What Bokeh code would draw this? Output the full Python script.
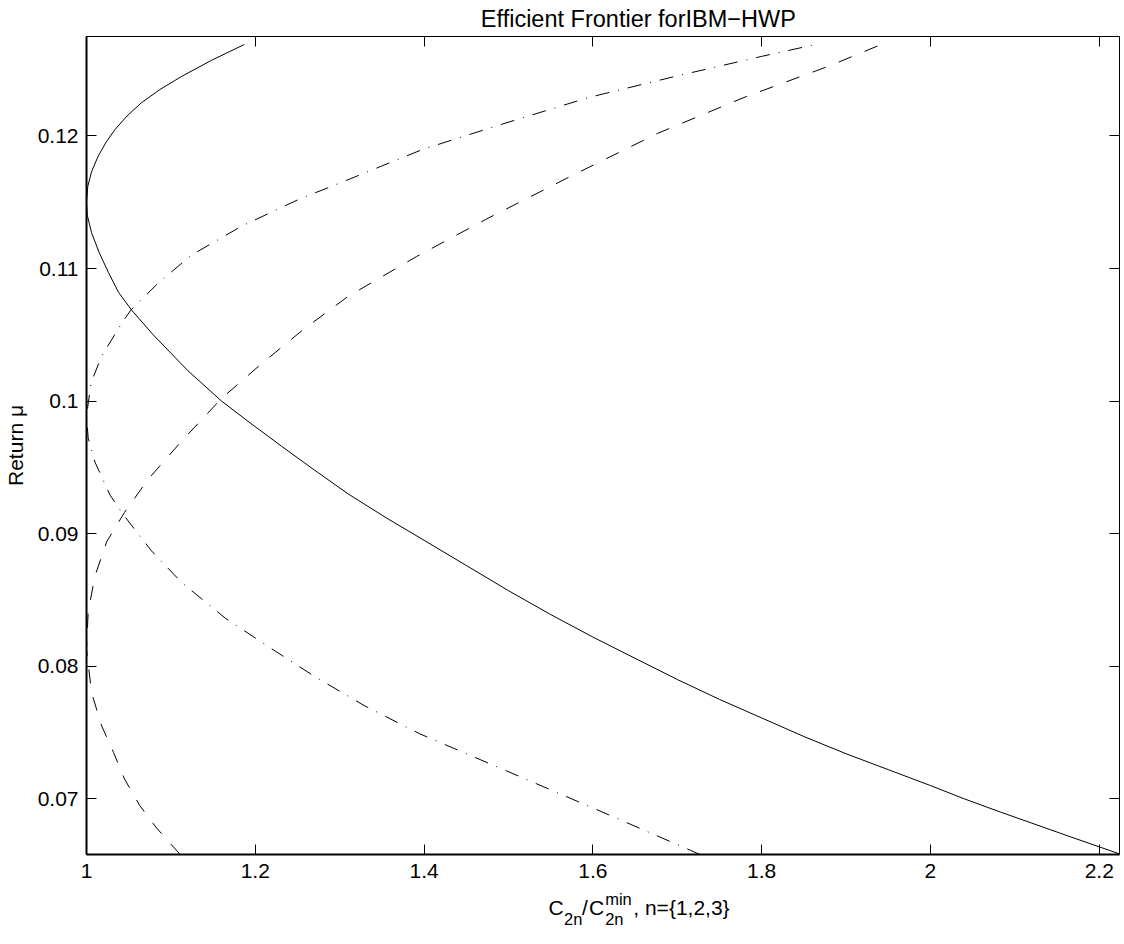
from bokeh.plotting import figure
from bokeh.layouts import column
from bokeh.models import Range1d, LinearAxis, FixedTicker, CustomJSTickFormatter
from bokeh.core.properties import value
from bokeh.embed import file_html
from bokeh.resources import INLINE

FONT = "Liberation Sans"

# ---------------- data / texts ----------------
title_text = "Efficient Frontier forIBM\u2212HWP"
y_label_text = "Return \u03bc"
x_ticks = [1.0, 1.2, 1.4, 1.6, 1.8, 2.0, 2.2]
x_tick_labels = ["1", "1.2", "1.4", "1.6", "1.8", "2", "2.2"]
y_ticks = [0.07, 0.08, 0.09, 0.10, 0.11, 0.12]
y_tick_labels = ["0.07", "0.08", "0.09", "0.1", "0.11", "0.12"]

# n = 1 (solid line): ratio C_2n / C_2n^min versus return mu
n1_ratio = [2.226, 2.163, 2.083, 2.040, 2.000, 1.950, 1.900, 1.850, 1.800, 1.750,
            1.700, 1.650, 1.600, 1.550, 1.500, 1.450, 1.400, 1.355, 1.310, 1.270,
            1.231, 1.195, 1.160, 1.120, 1.079, 1.053, 1.038, 1.026, 1.015, 1.006,
            1.001, 1.000, 1.0015, 1.006, 1.014, 1.023, 1.034, 1.048, 1.065, 1.087,
            1.113, 1.148, 1.187]
n1_return = [0.0658, 0.0672, 0.0690, 0.0700, 0.0710, 0.0722, 0.0734, 0.0747, 0.0761, 0.0775,
             0.0790, 0.0806, 0.0822, 0.0839, 0.0857, 0.0876, 0.0895, 0.0912, 0.0930, 0.0948,
             0.0966, 0.0983, 0.1000, 0.1023, 0.1050, 0.1069, 0.1082, 0.1097, 0.1112, 0.1127,
             0.1140, 0.1150, 0.1162, 0.1173, 0.1185, 0.1195, 0.1205, 0.1215, 0.1225, 0.1235,
             0.1245, 0.1257, 0.1269]

# n = 2 (dash-dot line)
n2_ratio = [1.727, 1.604, 1.498, 1.395, 1.330, 1.271, 1.215, 1.165, 1.113, 1.077,
            1.044, 1.028, 1.010, 1.002, 1.000, 1.0055, 1.018, 1.042, 1.053, 1.085,
            1.124, 1.184, 1.251, 1.310, 1.399, 1.493, 1.595, 1.698, 1.800, 1.864]
n2_return = [0.0658, 0.0692, 0.0721, 0.0749, 0.0770, 0.0792, 0.0815, 0.0836, 0.0863, 0.0887,
             0.0914, 0.0929, 0.0954, 0.0972, 0.0989, 0.1014, 0.1034, 0.1059, 0.1069, 0.1089,
             0.1110, 0.1132, 0.1152, 0.1167, 0.1190, 0.1209, 0.1229, 0.1245, 0.1260, 0.1269]

# n = 3 (dashed line)
n3_ratio = [1.111, 1.083, 1.063, 1.045, 1.032, 1.018, 1.006, 1.000, 1.002, 1.010,
            1.024, 1.045, 1.073, 1.113, 1.160, 1.207, 1.257, 1.310, 1.391, 1.473,
            1.575, 1.677, 1.779, 1.881, 1.938]
n3_return = [0.0658, 0.0678, 0.0695, 0.0715, 0.0735, 0.0755, 0.0780, 0.0813, 0.0841, 0.0868,
             0.0894, 0.0916, 0.0941, 0.0970, 0.1002, 0.1028, 0.1054, 0.1079, 0.1109, 0.1137,
             0.1170, 0.1202, 0.1229, 0.1253, 0.1268]

# x-axis label pieces (text, role) -- role: main / sub / sup
xlabel_parts = ["C", "2n", "/", "C", "min", "2n", ", n={1,2,3}"]
xlabel_roles = ["main", "sub", "main", "main", "sup", "sub", "main"]

# ---------------- layout constants ----------------
x_min, x_max = 1.0, 2.224
y_min, y_max = 0.0658, 0.1275
FRAME_W, FRAME_H = 1033, 818
LEFT, RIGHT = 82, 1
FIG_W = LEFT + FRAME_W + RIGHT
TOP_H, BOT_H = 35, 40

# pixel anchors (relative to the strip figures) for the label pieces
xlabel_px = [501, 518, 537.5, 545, 562.5, 562.5, 593]
role_baseline = {"main": 20, "sub": 31, "sup": 11.5}
role_size = {"main": "21px", "sub": "16.5px", "sup": "16.5px"}


def strip(height):
    f = figure(output_backend="svg", toolbar_location=None, width=FIG_W, height=height,
               min_border=0, x_axis_location=None, y_axis_location=None,
               x_range=Range1d(0, FIG_W), y_range=Range1d(height, 0),
               background_fill_color="white", border_fill_color="white")
    f.outline_line_color = None
    f.grid.visible = False
    return f


# ---- title strip ----
top = strip(TOP_H)
top.text(x=[LEFT + FRAME_W / 2], y=[18.8], text=[title_text], text_font=value(FONT),
         text_font_size="23.5px", text_color="black", text_align="center",
         text_baseline="alphabetic")

# ---- main plot ----
p = figure(
    output_backend="svg", toolbar_location=None,
    frame_width=FRAME_W, frame_height=FRAME_H,
    min_border_left=LEFT, min_border_top=1, min_border_right=RIGHT, min_border_bottom=33,
    x_range=Range1d(x_min, x_max), y_range=Range1d(y_min, y_max),
    x_axis_location=None, y_axis_location=None,
    background_fill_color="white", border_fill_color="white",
)
p.grid.visible = False
p.outline_line_color = "black"
p.outline_line_width = 1


def fmt(tick_values, tick_labels):
    return CustomJSTickFormatter(args=dict(tvals=tick_values, tlabs=tick_labels), code="""
        for (let i = 0; i < tvals.length; i++) {
            if (Math.abs(tvals[i] - tick) < 1e-9) return tlabs[i];
        }
        return '';
    """)


def style(ax, show_labels):
    ax.major_tick_in = 10
    ax.major_tick_out = 0
    ax.minor_tick_line_color = None
    ax.major_tick_line_color = "black"
    ax.major_tick_line_width = 1
    if show_labels:
        ax.major_label_text_font = FONT
        ax.major_label_text_font_size = "21px"
        ax.major_label_text_color = "black"
    else:
        ax.formatter = CustomJSTickFormatter(code="return '';")
        ax.major_label_text_font_size = "0px"
        ax.major_label_standoff = 0


xb = LinearAxis(ticker=FixedTicker(ticks=x_ticks), formatter=fmt(x_ticks, x_tick_labels))
style(xb, True)
xb.major_label_standoff = 9
xb.axis_line_color = "black"
xb.axis_line_width = 2
p.add_layout(xb, "below")

yl = LinearAxis(ticker=FixedTicker(ticks=y_ticks), formatter=fmt(y_ticks, y_tick_labels))
style(yl, True)
yl.major_label_standoff = 8
yl.axis_line_color = "black"
yl.axis_line_width = 2
yl.axis_label = y_label_text
yl.axis_label_text_font = FONT
yl.axis_label_text_font_size = "21px"
yl.axis_label_text_font_style = "normal"
yl.axis_label_text_color = "black"
yl.axis_label_standoff = 8
p.add_layout(yl, "left")

xt = LinearAxis(ticker=FixedTicker(ticks=x_ticks))
style(xt, False)
xt.axis_line_color = None
p.add_layout(xt, "above")

yr = LinearAxis(ticker=FixedTicker(ticks=y_ticks))
style(yr, False)
yr.axis_line_color = None
p.add_layout(yr, "right")

p.line(n1_ratio, n1_return, line_color="black", line_width=1)
p.line(n2_ratio, n2_return, line_color="black", line_width=1, line_dash="14 9 1 9")
p.line(n3_ratio, n3_return, line_color="black", line_width=1, line_dash="14 14")

# ---- x-label strip (with sub/superscripts as real text) ----
bot = strip(BOT_H)
for role in ["main", "sub", "sup"]:
    idx = [i for i, r in enumerate(xlabel_roles) if r == role]
    bot.text(x=[xlabel_px[i] for i in idx], y=[role_baseline[role]] * len(idx),
             text=[xlabel_parts[i] for i in idx], text_font=value(FONT),
             text_font_size=role_size[role], text_color="black",
             text_align="left", text_baseline="alphabetic")

layout = column(top, p, bot, spacing=0)
open("out.html", "w").write(file_html(layout, INLINE))
